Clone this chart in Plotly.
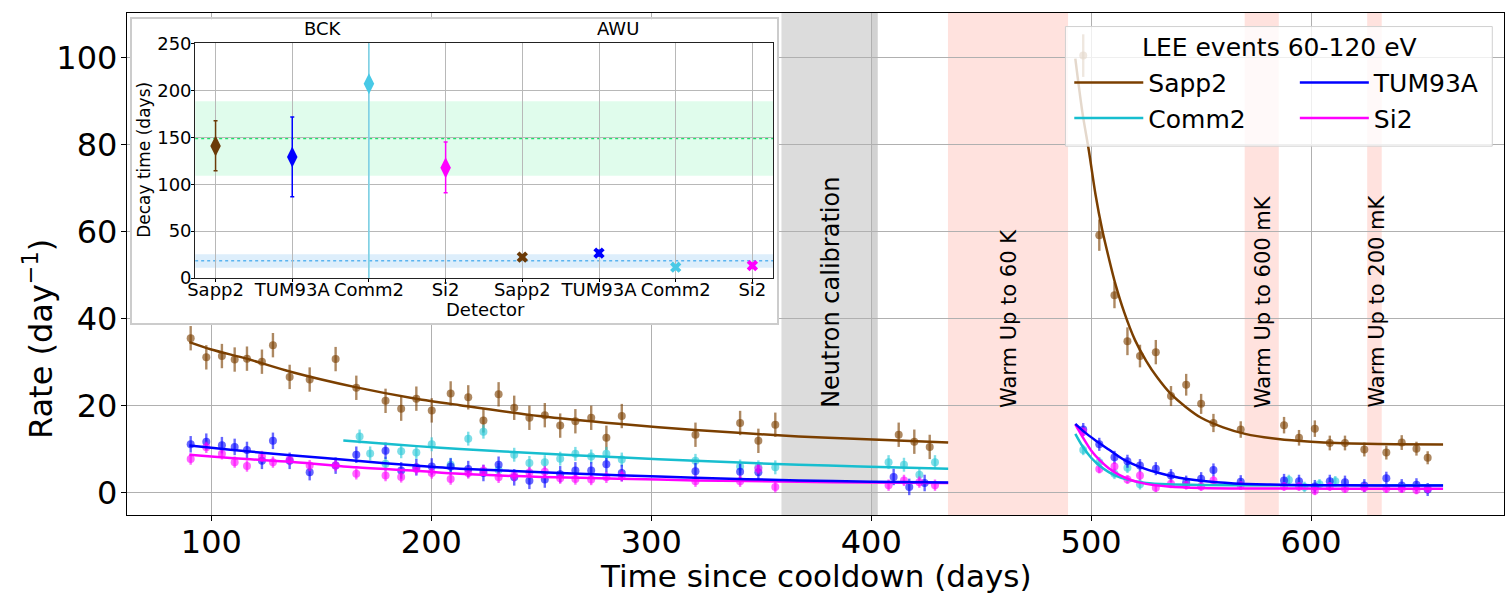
import plotly.graph_objects as go

FONT = "DejaVu Sans"

# ---------------- main panel data ----------------
# Sapp2 -- before warm-up (BCK)
SAPP2_BCK_DAYS = [90.6, 97.7, 104.8, 110.6, 116.2, 123.0, 128.0, 135.6, 144.7, 156.5, 165.9, 179.2,
                  186.3, 193.2, 200.2, 208.8, 216.8, 223.7, 230.6, 237.7, 244.6, 251.6, 258.6, 265.5,
                  272.7, 279.6, 286.6, 320.1, 340.4, 348.7, 356.4, 412.5, 419.6, 426.6]
SAPP2_BCK_RATE = [35.5, 31.1, 31.4, 30.6, 30.8, 30.1, 33.9, 26.6, 26.0, 30.7, 24.1, 21.1,
                  19.3, 21.6, 18.9, 22.8, 21.9, 16.6, 22.6, 19.5, 17.2, 17.8, 15.4, 16.4,
                  17.2, 12.6, 17.6, 13.3, 16.0, 11.9, 15.6, 13.3, 11.7, 10.5]
SAPP2_BCK_ERR = 2.8

# TUM93A -- BCK
TUM_BCK_DAYS = [90.6, 97.7, 104.8, 110.6, 116.2, 123.0, 128.0, 135.6, 144.7, 156.5, 165.9, 179.2,
                186.3, 193.2, 200.2, 208.8, 216.8, 223.7, 230.6, 237.7, 244.6, 251.6, 258.6, 265.5,
                272.7, 279.6, 286.6, 320.1, 340.4, 348.7, 410.2, 417.3, 424.3]
TUM_BCK_RATE = [11.1, 11.7, 10.9, 10.5, 9.8, 7.3, 11.9, 7.3, 4.7, 6.2, 8.7, 9.6,
                5.1, 5.8, 6.0, 6.0, 5.4, 4.5, 6.4, 3.5, 2.7, 3.0, 4.2, 5.1,
                5.1, 6.5, 4.5, 4.9, 4.8, 4.7, 3.6, 1.3, 2.2]
TUM_BCK_ERR = 1.9

# Si2 -- BCK
SI2_BCK_DAYS = [90.6, 97.7, 104.8, 110.6, 116.2, 123.0, 128.0, 135.6, 144.7, 156.5, 165.9, 179.2,
                186.3, 193.2, 200.2, 208.8, 216.8, 223.7, 230.6, 237.7, 244.6, 251.6, 258.6, 265.5,
                272.7, 279.6, 286.6, 320.1, 340.4, 348.7, 356.4, 407.9, 414.9, 421.9, 429.0]
SI2_BCK_RATE = [7.7, 10.4, 8.9, 7.0, 6.1, 8.3, 7.0, 7.6, 6.2, 6.2, 4.3, 3.9,
                3.6, 5.4, 4.5, 3.1, 4.5, 5.1, 3.5, 3.9, 4.6, 4.8, 3.3, 3.1,
                3.0, 3.5, 3.8, 2.6, 2.6, 5.5, 1.3, 1.7, 2.8, 2.4, 1.7]
SI2_BCK_ERR = 1.3

# Comm2 -- BCK
COMM2_BCK_DAYS = [167.4, 172.2, 179.2, 186.3, 193.2, 200.2, 208.8, 216.8, 223.7, 230.6, 237.7,
                  244.6, 251.6, 258.6, 265.5, 272.7, 279.6, 286.6, 320.1, 340.4, 348.7, 356.4,
                  407.9, 414.9, 421.9, 429.0]
COMM2_BCK_RATE = [12.9, 9.0, 6.6, 9.5, 9.2, 11.1, 6.4, 12.4, 14.0, 5.2, 8.7,
                  6.8, 7.0, 7.8, 8.9, 8.3, 8.9, 7.6, 7.3, 6.0, 5.8, 5.8,
                  7.0, 6.4, 4.1, 7.0]
COMM2_BCK_ERR = 1.6

# After warm-up (AWU)
AWU_DAYS = [496.4, 503.7, 510.6, 516.5, 522.2, 529.4, 536.3, 543.2, 550.0, 555.6, 568.0,
            587.7, 594.5, 601.7, 608.5, 615.4, 624.2, 634.2, 641.2, 647.9, 653.0]
SAPP2_AWU_RATE = [100.5, 59.2, 45.4, 34.8, 31.4, 32.3, 22.2, 24.8, 20.4, 16.0, 14.5,
                  15.5, 12.6, 14.7, 11.4, 11.4, 9.9, 9.2, 11.5, 10.1, 8.0]
SAPP2_AWU_ERR = [4.9, 3.6, 3.0, 3.2, 2.6, 2.8, 2.3, 2.5, 2.3, 2.1, 1.9,
                 1.9, 1.8, 1.9, 1.7, 1.7, 1.6, 1.6, 1.7, 1.6, 1.5]
TUM_AWU_RATE = [14.5, 11.1, 8.1, 7.2, 6.2, 5.5, 3.9, 2.4, 3.2, 5.2, 2.5,
                2.8, 2.6, 1.4, 2.6, 2.4, 1.6, 3.3, 1.6, 1.8, 0.7]
TUM_AWU_ERR = 1.5
SI2_AWU_RATE = [14.0, 5.4, 6.0, 3.0, 3.9, 1.1, 2.0, 1.7, 1.4, 2.8, 1.6,
                1.4, 1.4, 0.4, 1.4, 0.9, 1.1, 0.9, 0.9, 0.6, 0.9]
SI2_AWU_ERR = 1.0
COMM2_AWU_DAYS = [496.4, 503.7, 510.6, 516.5, 522.2, 589.9, 597.0, 603.8, 611.0]
COMM2_AWU_RATE = [9.8, 7.0, 4.3, 5.7, 1.9, 2.9, 1.3, 1.9, 2.6]
COMM2_AWU_ERR = 1.2

# fitted curves
SAPP2_FIT_BCK_DAYS = [90, 100, 116, 136, 166, 193, 213, 249, 285, 320, 367, 395, 435]
SAPP2_FIT_BCK_RATE = [34.6, 32.9, 30.8, 27.8, 24.2, 21.6, 20.1, 17.6, 15.8, 14.4, 12.9, 12.3, 11.5]
SAPP2_FIT_AWU_DAYS = [492.8, 496, 499, 502, 505, 508, 511, 515, 520, 525, 530, 536, 543, 550, 560,
                      570, 585, 600, 625, 660]
SAPP2_FIT_AWU_RATE = [99.8, 87.5, 78.5, 68.5, 60.5, 54.0, 48.0, 41.5, 35.0, 30.3, 26.5, 22.8, 19.7,
                      17.2, 15.0, 13.5, 12.3, 11.7, 11.2, 11.05]
TUM_FIT_BCK_DAYS = [90, 100, 116, 136, 166, 193, 213, 250, 285, 320, 367, 400, 435]
TUM_FIT_BCK_RATE = [10.8, 10.3, 9.5, 8.6, 7.3, 6.2, 5.5, 4.7, 4.0, 3.4, 2.8, 2.5, 2.3]
TUM_FIT_AWU_DAYS = [492.8, 497, 502, 508, 515, 522, 530, 540, 550, 565, 580, 600, 630, 660]
TUM_FIT_AWU_RATE = [15.8, 13.9, 12.0, 9.9, 7.5, 5.9, 4.6, 3.4, 2.7, 2.1, 1.85, 1.7, 1.65, 1.6]
SI2_FIT_BCK_DAYS = [90, 100, 116, 136, 166, 193, 213, 250, 285, 320, 367, 400, 435]
SI2_FIT_BCK_RATE = [8.7, 8.3, 7.7, 7.1, 5.8, 5.0, 4.3, 3.6, 3.2, 2.8, 2.5, 2.3, 2.2]
SI2_FIT_AWU_DAYS = [492.8, 496, 500, 504, 508, 513, 518, 525, 535, 550, 575, 610, 660]
SI2_FIT_AWU_RATE = [15.7, 12.9, 9.7, 7.4, 5.6, 4.0, 2.9, 2.0, 1.4, 1.05, 0.93, 0.9, 0.9]
COMM2_FIT_BCK_DAYS = [160, 185, 204, 213, 250, 285, 320, 367, 395, 435]
COMM2_FIT_BCK_RATE = [12.0, 11.0, 10.3, 10.0, 9.0, 8.1, 7.3, 6.4, 6.0, 5.5]
COMM2_FIT_AWU_DAYS = [492.8, 496, 500, 504, 508, 513, 518, 525, 535, 550, 580, 620, 660]
COMM2_FIT_AWU_RATE = [13.5, 10.7, 8.0, 6.1, 4.7, 3.5, 2.8, 2.2, 1.9, 1.75, 1.7, 1.7, 1.7]

# shaded periods (days)
NEUTRON_CAL = [359.2, 402.9]
NEUTRON_CAL_EDGE = [400.0, 402.9]
WARM_UPS = [[434.9, 489.5], [569.8, 585.3], [625.5, 632.1]]
PERIOD_LABELS = ["Neutron calibration", "Warm Up to 60 K", "Warm Up to 600 mK", "Warm Up to 200 mK"]
PERIOD_LABEL_DAYS = [381.9, 462.9, 578.5, 630.0]

# ---------------- inset data ----------------
DETECTORS = ["Sapp2", "TUM93A", "Comm2", "Si2"]
INSET_TICKS = ["Sapp2", "TUM93A", "Comm2", "Si2", "Sapp2", "TUM93A", "Comm2", "Si2"]
INSET_XRANGE = [-0.266, 7.27]
BCK_TAU = [140.6, 129.0, 206.9, 117.5]
BCK_TAU_ERR_UP = [27.0, 42.5, 215.0, 27.3]
BCK_TAU_ERR_DN = [26.3, 42.4, 215.0, 26.7]
AWU_TAU = [22.4, 26.6, 11.6, 13.3]
AWU_TAU_ERR = [2.5, 3.0, 2.5, 2.5]
BCK_MEAN = 149.0
BCK_BAND = [109.0, 188.3]
AWU_MEAN = 18.5
AWU_BAND = [11.0, 25.4]

# ---------------- styles ----------------
C_SAPP2, C_TUM, C_COMM2, C_SI2 = "#7b3f00", "#0000ff", "#17becf", "#ff00ff"
P_SAPP2, P_TUM, P_COMM2, P_SI2 = ("rgba(123,63,0,0.62)", "rgba(0,0,255,0.6)",
                                  "rgba(40,200,215,0.6)", "rgba(255,0,255,0.6)")
INSET_COLORS = ["#6b3a07", "#0000ff", "#48c9e6", "#ff00ff"]
INSET_ERR_COLORS = ["#6b3a07", "#0000ff", "#78d5ec", "#ff00ff"]

fig = go.Figure()


def add_points(days, rate, err, col):
    e = dict(type="data", array=err, color=col, thickness=2.4, width=0) if isinstance(err, list) \
        else dict(type="constant", value=err, color=col, thickness=2.4, width=0)
    fig.add_trace(go.Scatter(x=days, y=rate, mode="markers", showlegend=False,
                             marker=dict(size=8, color=col, line=dict(width=0)),
                             error_y=e, hoverinfo="skip"))


add_points(SAPP2_BCK_DAYS, SAPP2_BCK_RATE, SAPP2_BCK_ERR, P_SAPP2)
add_points(AWU_DAYS, SAPP2_AWU_RATE, SAPP2_AWU_ERR, P_SAPP2)
add_points(COMM2_BCK_DAYS, COMM2_BCK_RATE, COMM2_BCK_ERR, P_COMM2)
add_points(COMM2_AWU_DAYS, COMM2_AWU_RATE, COMM2_AWU_ERR, P_COMM2)
add_points(TUM_BCK_DAYS, TUM_BCK_RATE, TUM_BCK_ERR, P_TUM)
add_points(AWU_DAYS, TUM_AWU_RATE, TUM_AWU_ERR, P_TUM)
add_points(SI2_BCK_DAYS, SI2_BCK_RATE, SI2_BCK_ERR, P_SI2)
add_points(AWU_DAYS, SI2_AWU_RATE, SI2_AWU_ERR, P_SI2)


def add_fit(name, d1, r1, d2, r2, col, legend):
    fig.add_trace(go.Scatter(x=d1 + [None] + d2, y=r1 + [None] + r2, mode="lines", name=name,
                             line=dict(color=col, width=2.5, shape="spline", smoothing=0.8),
                             legend=legend, hoverinfo="skip"))


add_fit("Sapp2", SAPP2_FIT_BCK_DAYS, SAPP2_FIT_BCK_RATE, SAPP2_FIT_AWU_DAYS, SAPP2_FIT_AWU_RATE, C_SAPP2, "legend")
add_fit("Comm2", COMM2_FIT_BCK_DAYS, COMM2_FIT_BCK_RATE, COMM2_FIT_AWU_DAYS, COMM2_FIT_AWU_RATE, C_COMM2, "legend")
add_fit("Si2", SI2_FIT_BCK_DAYS, SI2_FIT_BCK_RATE, SI2_FIT_AWU_DAYS, SI2_FIT_AWU_RATE, C_SI2, "legend2")
add_fit("TUM93A", TUM_FIT_BCK_DAYS, TUM_FIT_BCK_RATE, TUM_FIT_AWU_DAYS, TUM_FIT_AWU_RATE, C_TUM, "legend2")

# inset frame subplot (empty)
fig.add_trace(go.Scatter(x=[], y=[], xaxis="x2", yaxis="y2", showlegend=False, hoverinfo="skip"))

# inset points
for i, det in enumerate(DETECTORS):
    fig.add_trace(go.Scatter(
        x=[i], y=[BCK_TAU[i]], xaxis="x3", yaxis="y3", mode="markers", showlegend=False,
        marker=dict(symbol="diamond-tall", size=15, color=INSET_COLORS[i], line=dict(width=0)),
        error_y=dict(type="data", array=[BCK_TAU_ERR_UP[i]], arrayminus=[BCK_TAU_ERR_DN[i]],
                     color=INSET_ERR_COLORS[i], thickness=1.5, width=2),
        hoverinfo="skip"))
    fig.add_trace(go.Scatter(
        x=[4 + i], y=[AWU_TAU[i]], xaxis="x3", yaxis="y3", mode="markers", showlegend=False,
        marker=dict(symbol="x", size=10, color=INSET_COLORS[i], line=dict(width=0)),
        error_y=dict(type="data", array=[AWU_TAU_ERR[i]], color=INSET_ERR_COLORS[i],
                     thickness=1.5, width=2),
        hoverinfo="skip"))

shapes = []
# shaded periods
shapes.append(dict(type="rect", xref="x", yref="y domain", x0=NEUTRON_CAL[0], x1=NEUTRON_CAL[1],
                   y0=0, y1=1, fillcolor="#dcdcdc", line=dict(width=0), layer="below"))
shapes.append(dict(type="rect", xref="x", yref="y domain", x0=NEUTRON_CAL_EDGE[0], x1=NEUTRON_CAL_EDGE[1],
                   y0=0, y1=1, fillcolor="#d2d2d2", line=dict(width=0), layer="below"))
for w in WARM_UPS:
    shapes.append(dict(type="rect", xref="x", yref="y domain", x0=w[0], x1=w[1], y0=0, y1=1,
                       fillcolor="#ffe2de", line=dict(width=0), layer="below"))
# inset reference bands and lines (drawn inside the inset subplot)
shapes.append(dict(type="rect", xref="x3", yref="y3", x0=INSET_XRANGE[0], x1=INSET_XRANGE[1],
                   y0=BCK_BAND[0], y1=BCK_BAND[1], fillcolor="#e0fcec", line=dict(width=0), layer="below"))
shapes.append(dict(type="rect", xref="x3", yref="y3", x0=INSET_XRANGE[0], x1=INSET_XRANGE[1],
                   y0=AWU_BAND[0], y1=AWU_BAND[1], fillcolor="#ddeefb", line=dict(width=0), layer="below"))
shapes.append(dict(type="line", xref="x3", yref="y3", x0=INSET_XRANGE[0], x1=INSET_XRANGE[1],
                   y0=BCK_MEAN, y1=BCK_MEAN, line=dict(color="#1ee06a", width=2.2, dash="dot"), layer="below"))
shapes.append(dict(type="line", xref="x3", yref="y3", x0=INSET_XRANGE[0], x1=INSET_XRANGE[1],
                   y0=AWU_MEAN, y1=AWU_MEAN, line=dict(color="#5ab4f0", width=1.5, dash="dot"), layer="below"))
# legend box
shapes.append(dict(type="rect", xref="paper", yref="paper", x0=0.6815, x1=0.9915, y0=0.7348, y1=0.973,
                   fillcolor="rgba(255,255,255,0.8)", line=dict(color="#d0d0d0", width=1), layer="above"))

annotations = []
PERIOD_FONT_SIZES = [24, 21, 21, 21]
for lab, d, fs in zip(PERIOD_LABELS, PERIOD_LABEL_DAYS, PERIOD_FONT_SIZES):
    annotations.append(dict(text=lab, x=d, y=19.0, xref="x", yref="y", textangle=-90,
                            xanchor="center", yanchor="bottom", showarrow=False,
                            font=dict(size=fs, family=FONT, color="black")))
annotations += [
    dict(text="Rate (day<sup>\u22121</sup>)", x=-0.0641, y=0.35, xref="paper", yref="paper",
         textangle=-90, showarrow=False, xanchor="center", yanchor="middle",
         font=dict(size=32, family=FONT, color="black")),
    dict(text="Time since cooldown (days)", x=0.5, y=-0.1215, xref="paper", yref="paper",
         showarrow=False, xanchor="center", yanchor="middle",
         font=dict(size=31, family=FONT, color="black")),
    dict(text="BCK", x=0.1426, y=0.969, xref="paper", yref="paper", showarrow=False,
         xanchor="center", yanchor="middle", font=dict(size=18, family=FONT, color="black")),
    dict(text="AWU", x=0.3563, y=0.969, xref="paper", yref="paper", showarrow=False,
         xanchor="center", yanchor="middle", font=dict(size=18, family=FONT, color="black")),
    dict(text="Detector", x=0.2602, y=0.41, xref="paper", yref="paper", showarrow=False,
         xanchor="center", yanchor="middle", font=dict(size=18, family=FONT, color="black")),
    dict(text="Decay time (days)", x=0.0128, y=0.7067, xref="paper", yref="paper", showarrow=False,
         textangle=-90, xanchor="center", yanchor="middle", font=dict(size=17, family=FONT, color="black")),
    dict(text="LEE events 60-120 eV", x=0.8367, y=0.9317, xref="paper", yref="paper", showarrow=False,
         xanchor="center", yanchor="middle", font=dict(size=25, family=FONT, color="black")),
]

main_axis = dict(showgrid=True, gridcolor="#b0b0b0", gridwidth=1, zeroline=False, showline=True,
                 mirror=True, linecolor="black", linewidth=1.3, ticks="outside", ticklen=5,
                 tickcolor="black", tickfont=dict(size=32, family=FONT, color="black"))
frame_axis = dict(showgrid=False, zeroline=False, showline=True, mirror=True, linecolor="#cccccc",
                  linewidth=1.5, showticklabels=False, ticks="", range=[0, 1], fixedrange=True)
inset_axis = dict(showgrid=True, gridcolor="#b8b8b8", gridwidth=1, zeroline=False, showline=True,
                  mirror=True, linecolor="#222222", linewidth=1, ticks="outside", ticklen=3,
                  tickcolor="black", tickfont=dict(size=18, family=FONT, color="black"))

fig.update_layout(
    width=1507, height=594,
    margin=dict(l=127, r=2, t=7, b=79),
    paper_bgcolor="white", plot_bgcolor="white",
    font=dict(family=FONT, color="black"),
    xaxis=dict(main_axis, range=[61.65, 687.7], dtick=100, tick0=0, ticklabelstandoff=-7),
    yaxis=dict(main_axis, range=[-5.16, 110.3], dtick=20, tick0=0, ticklabelstandoff=-3),
    xaxis2=dict(frame_axis, domain=[0.0036, 0.4724], anchor="y2"),
    yaxis2=dict(frame_axis, domain=[0.3825, 0.9876], anchor="x2"),
    xaxis3=dict(inset_axis, domain=[0.0495, 0.4692], anchor="y3", range=INSET_XRANGE,
                tickvals=list(range(len(INSET_TICKS))), ticktext=INSET_TICKS, ticklabelstandoff=-8),
    yaxis3=dict(inset_axis, domain=[0.4719, 0.9396], anchor="x3", range=[0, 250], dtick=50, tick0=0,
                ticklabelstandoff=-4),
    shapes=shapes,
    annotations=annotations,
    legend=dict(x=0.6843, xanchor="left", y=0.907, yanchor="top", orientation="v",
                bgcolor="rgba(0,0,0,0)", borderwidth=0, itemwidth=69, tracegroupgap=0,
                font=dict(size=25, family=FONT, color="black")),
    legend2=dict(x=0.8481, xanchor="left", y=0.907, yanchor="top", orientation="v",
                 bgcolor="rgba(0,0,0,0)", borderwidth=0, itemwidth=69, tracegroupgap=0,
                 traceorder="reversed", font=dict(size=25, family=FONT, color="black")),
    hovermode=False,
)

fig.write_html("out.html")
